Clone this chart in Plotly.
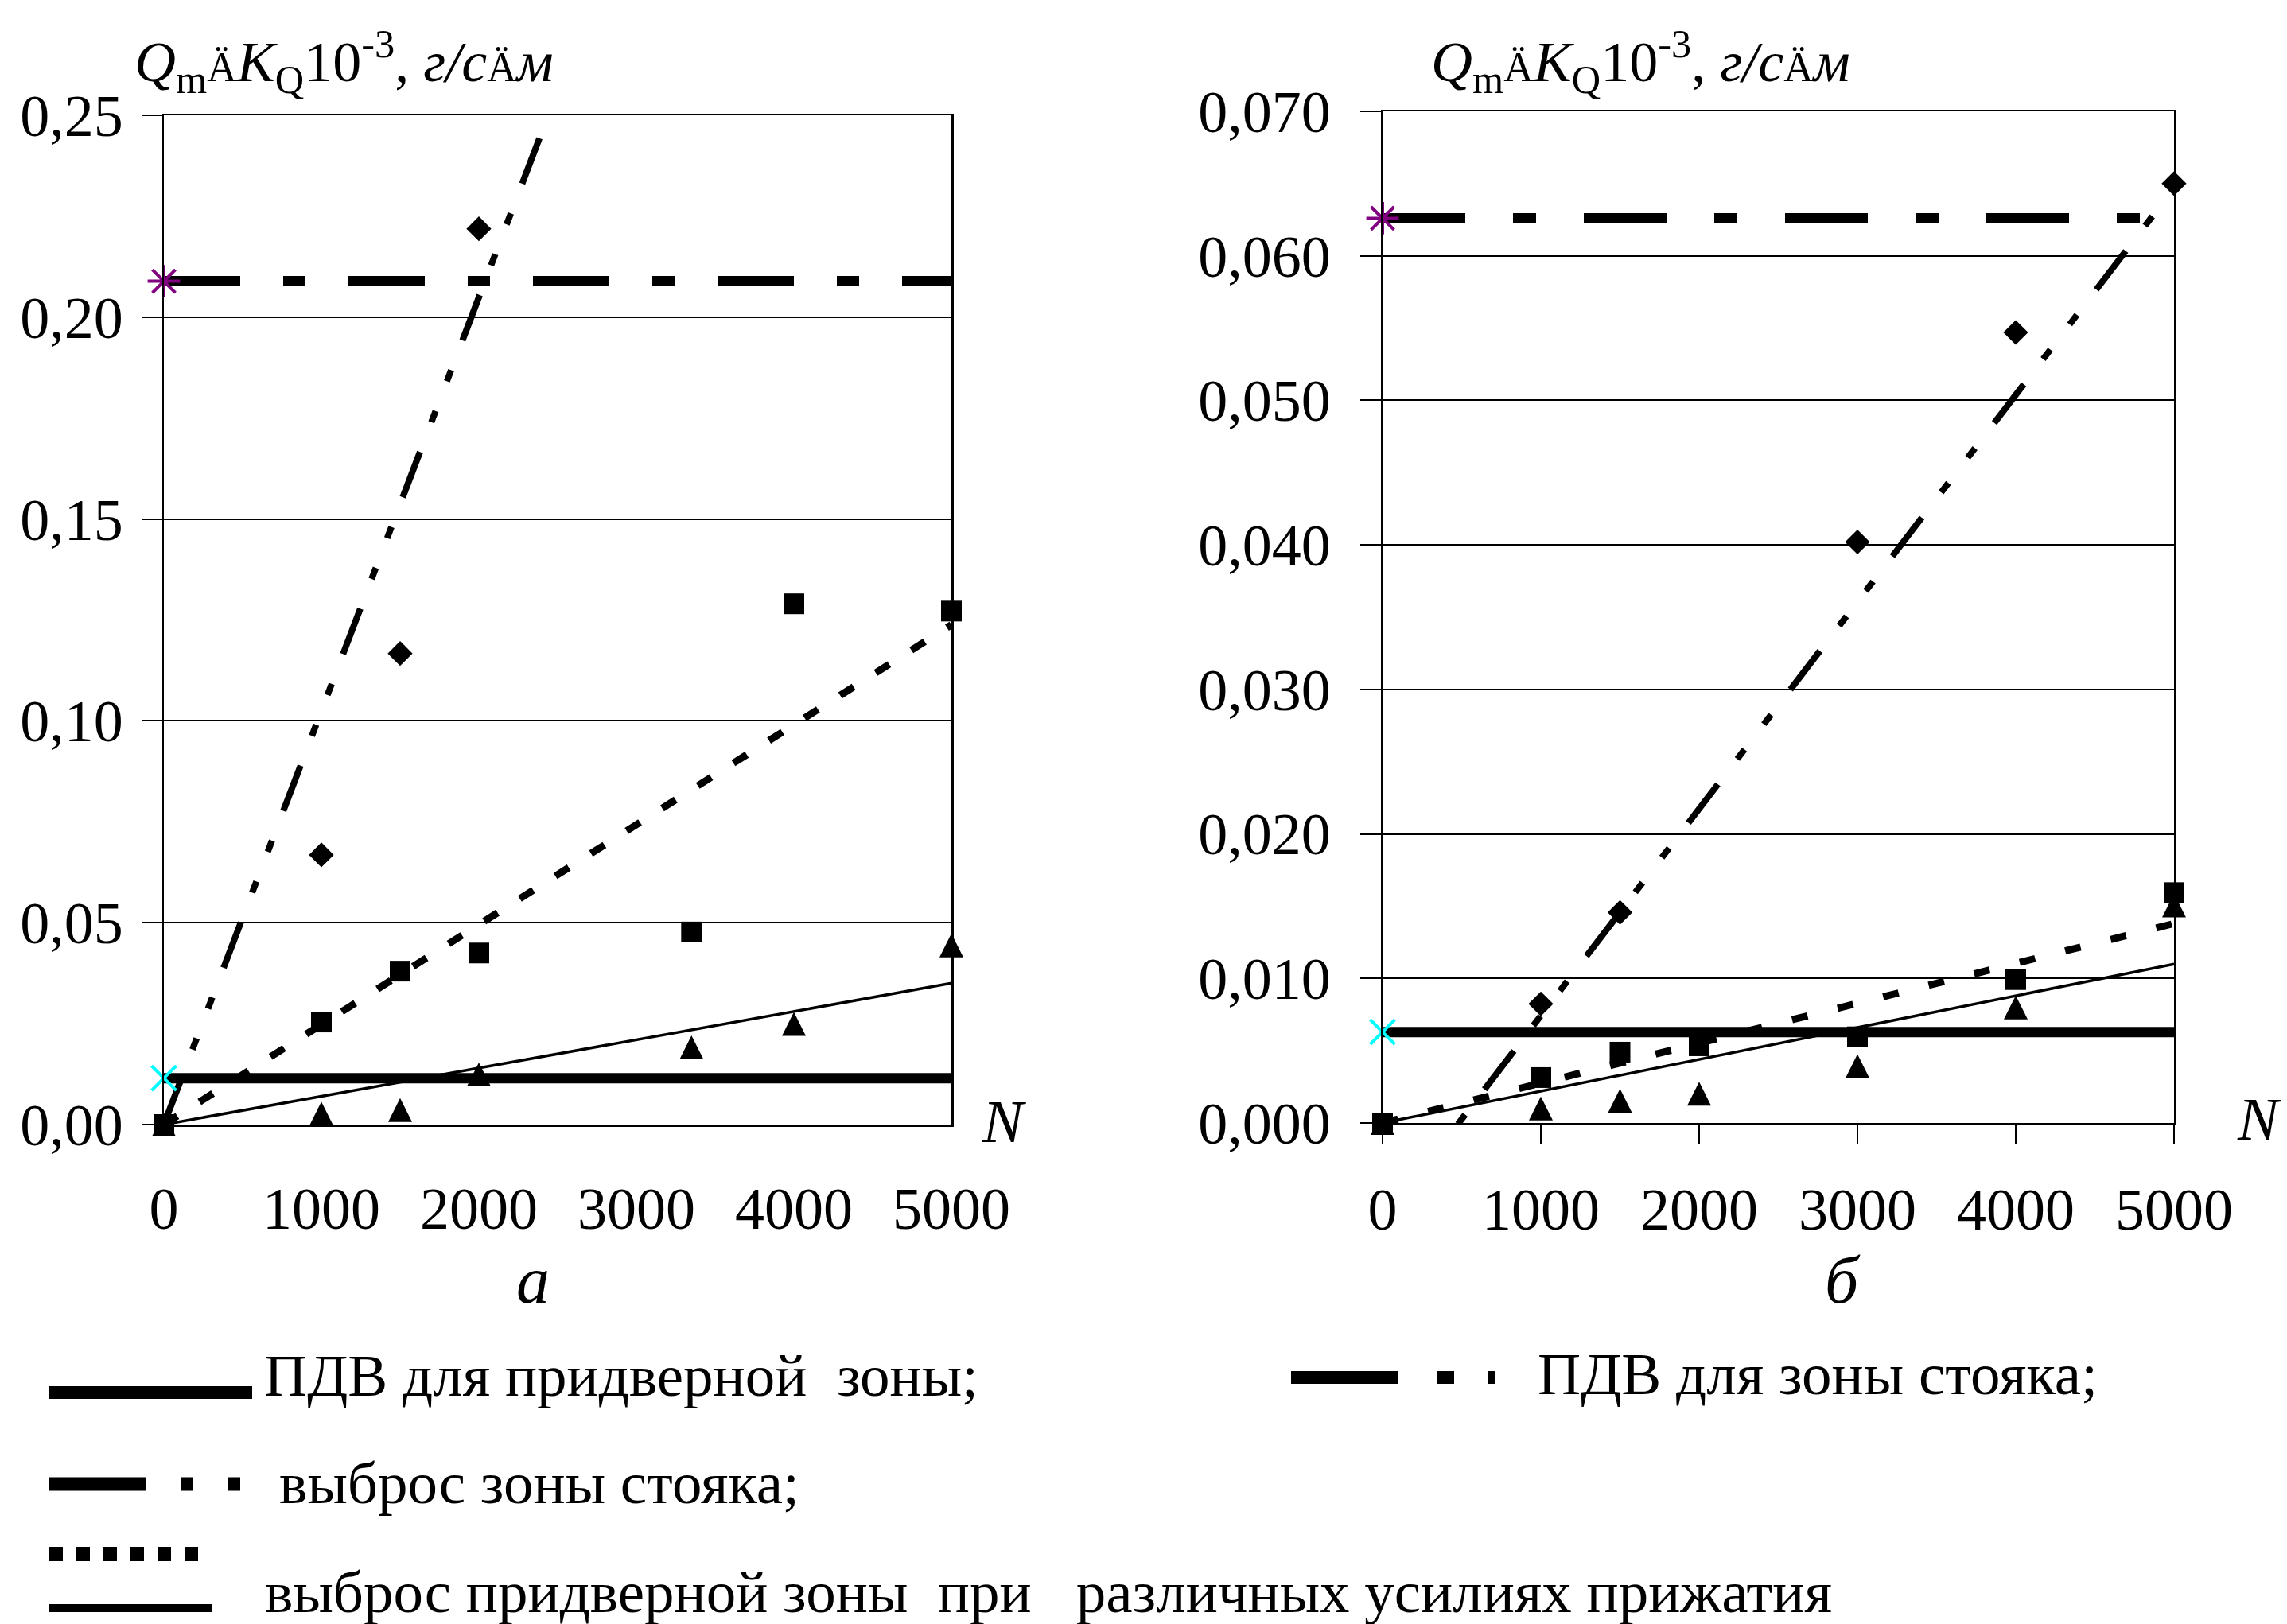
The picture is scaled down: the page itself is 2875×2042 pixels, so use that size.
import plotly.graph_objects as go

W, H = 2875, 2042
FONT = "Liberation Serif"

# ---------------- data: panel "а" ----------------
a_ticks_n = [0, 1000, 2000, 3000, 4000, 5000]
a_ticks_n_text = ["0", "1000", "2000", "3000", "4000", "5000"]
a_ticks_q = [0.0, 0.05, 0.10, 0.15, 0.20, 0.25]
a_ticks_q_text = ["0,00", "0,05", "0,10", "0,15", "0,20", "0,25"]

a_n_diamond = [1000, 1500, 2000]
a_q_diamond = [0.0668, 0.1167, 0.2219]
a_n_square = [0, 1000, 1500, 2000, 3350, 4000, 5000]
a_q_square = [0.0, 0.0254, 0.0380, 0.0425, 0.0477, 0.1290, 0.1272]
a_n_triangle = [0, 1000, 1500, 2000, 3350, 4000, 5000]
a_q_triangle = [0.0, 0.0027, 0.0036, 0.0124, 0.0191, 0.0249, 0.0444]

a_trend_diamond_n = [0, 2440]
a_trend_diamond_q = [0.0, 0.25]
a_trend_n = [0, 5000]
a_trend_square_q = [0.0, 0.1238]
a_trend_triangle_q = [0.0, 0.0350]

a_pdv_door = 0.0115
a_pdv_stand = 0.2089

# ---------------- data: panel "б" ----------------
b_ticks_n = [0, 1000, 2000, 3000, 4000, 5000]
b_ticks_n_text = ["0", "1000", "2000", "3000", "4000", "5000"]
b_ticks_q = [0.0, 0.01, 0.02, 0.03, 0.04, 0.05, 0.06, 0.07]
b_ticks_q_text = ["0,000", "0,010", "0,020", "0,030", "0,040", "0,050", "0,060", "0,070"]

b_n_diamond = [1000, 1500, 3000, 4000, 5000]
b_q_diamond = [0.00824, 0.01457, 0.0402, 0.0547, 0.0650]
b_n_square = [0, 1000, 1500, 2000, 3000, 4000, 5000]
b_q_square = [0.0, 0.00314, 0.0049, 0.00534, 0.00596, 0.00992, 0.01594]
b_n_triangle = [0, 1000, 1500, 2000, 3000, 4000, 5000]
b_q_triangle = [0.0, 0.0010, 0.00154, 0.00202, 0.00394, 0.0080, 0.01505]

b_trend_n = [0, 5000]
b_trend_diamond_q = [-0.0069, 0.0647]
b_trend_square_q = [0.0, 0.0138]
b_trend_triangle_q = [0.0, 0.0110]

b_pdv_door = 0.00629
b_pdv_stand = 0.0626

pdv_n = [0, 5000]

legend_labels = [
    "ПДВ для придверной\u00a0 зоны;",
    "ПДВ для зоны стояка;",
    "выброс зоны стояка;",
    "выброс придверной зоны\u00a0 при\u00a0\u00a0 различных усилиях прижатия",
]
axis_title = ("<i>Q</i><sub>m</sub><span style='font-size:52px'>Ä</span><i>K</i><sub>Q</sub>"
              "10<sup>-3</sup>, <i>г/с</i><span style='font-size:52px'>Ä</span><i>м</i>")


def px(x):
    return x / W


def py(y):
    return 1 - y / H


fig = go.Figure()


def add_panel(xa, ya, n_d, q_d, tdn, tdq, n_s, q_s, tn, tsq, n_t, q_t, ttq,
              pdv_door, pdv_stand, stand_dash, dot_dash):
    # trend: triangles (thin solid)
    fig.add_trace(go.Scatter(x=tn, y=ttq, mode="lines", xaxis=xa, yaxis=ya,
                             line=dict(color="black", width=3.5), showlegend=False))
    # trend: squares (dotted)
    fig.add_trace(go.Scatter(x=tn, y=tsq, mode="lines", xaxis=xa, yaxis=ya,
                             line=dict(color="black", width=9, dash=dot_dash), showlegend=False))
    # trend: diamonds (dash-dot-dot)
    fig.add_trace(go.Scatter(x=tdn, y=tdq, mode="lines", xaxis=xa, yaxis=ya,
                             line=dict(color="black", width=8,
                                       dash="61px,40px,15px,40px,15px,40px"),
                             showlegend=False))
    # ПДВ придверной зоны
    fig.add_trace(go.Scatter(x=pdv_n, y=[pdv_door, pdv_door], mode="lines", xaxis=xa, yaxis=ya,
                             line=dict(color="black", width=13), showlegend=False))
    # ПДВ зоны стояка
    fig.add_trace(go.Scatter(x=pdv_n, y=[pdv_stand, pdv_stand], mode="lines", xaxis=xa, yaxis=ya,
                             line=dict(color="black", width=13, dash=stand_dash), showlegend=False))
    # markers
    fig.add_trace(go.Scatter(x=n_t, y=q_t, mode="markers", xaxis=xa, yaxis=ya, cliponaxis=False,
                             marker=dict(symbol="arrow-down", angle=180, size=30, standoff=15,
                                         color="black", line=dict(width=0)), showlegend=False))
    fig.add_trace(go.Scatter(x=n_s, y=q_s, mode="markers", xaxis=xa, yaxis=ya, cliponaxis=False,
                             marker=dict(symbol="square", size=26, color="black",
                                         line=dict(width=0)), showlegend=False))
    fig.add_trace(go.Scatter(x=n_d, y=q_d, mode="markers", xaxis=xa, yaxis=ya, cliponaxis=False,
                             marker=dict(symbol="diamond", size=24, color="black",
                                         line=dict(width=0)), showlegend=False))
    fig.add_trace(go.Scatter(x=[pdv_n[0]], y=[pdv_door], mode="markers", xaxis=xa, yaxis=ya,
                             cliponaxis=False,
                             marker=dict(symbol="x-thin-open", size=31, color="#00FFFF",
                                         line=dict(width=4, color="#00FFFF")), showlegend=False))
    fig.add_trace(go.Scatter(x=[pdv_n[0]], y=[pdv_stand], mode="markers", xaxis=xa, yaxis=ya,
                             cliponaxis=False,
                             marker=dict(symbol="asterisk-open", size=34, color="#800080",
                                         line=dict(width=4, color="#800080")), showlegend=False))


add_panel("x", "y", a_n_diamond, a_q_diamond, a_trend_diamond_n, a_trend_diamond_q,
          a_n_square, a_q_square, a_trend_n, a_trend_square_q, a_n_triangle, a_q_triangle,
          a_trend_triangle_q, a_pdv_door, a_pdv_stand, "96px,54px,28px,54px", "20px,33px")
add_panel("x2", "y2", b_n_diamond, b_q_diamond, b_trend_n, b_trend_diamond_q,
          b_n_square, b_q_square, b_trend_n, b_trend_square_q, b_n_triangle, b_q_triangle,
          b_trend_triangle_q, b_pdv_door, b_pdv_stand, "104px,60px,29px,60px", "20px,39px")

tickfont = dict(family=FONT, size=74, color="black")
common_x = dict(range=[0, 5000], showline=True, mirror=True, linecolor="black", linewidth=2.5,
                showgrid=False, zeroline=False, tickfont=tickfont, fixedrange=True,
                automargin=False)
common_y = dict(showline=True, mirror=True, linecolor="black", linewidth=2.5,
                showgrid=True, gridcolor="black", gridwidth=2, zeroline=False,
                ticks="outside", tickcolor="black", tickwidth=2, tickfont=tickfont, fixedrange=True,
                automargin=False)

fig.update_layout(
    template="none",
    width=W, height=H, autosize=False,
    margin=dict(l=0, r=0, t=0, b=0, pad=0),
    paper_bgcolor="white", plot_bgcolor="white",
    font=dict(family=FONT, color="black"),
    showlegend=False,
    xaxis=dict(domain=[px(206), px(1196)], anchor="y", tickvals=a_ticks_n, ticktext=a_ticks_n_text,
               ticks="", ticklabelstandoff=40, **common_x),
    yaxis=dict(domain=[py(1414), py(145)], anchor="x", range=[0, 0.25], tickvals=a_ticks_q,
               ticktext=a_ticks_q_text, ticklen=25, ticklabelstandoff=9, **common_y),
    xaxis2=dict(domain=[px(1738), px(2733)], anchor="y2", tickvals=b_ticks_n, ticktext=b_ticks_n_text,
                ticks="outside", ticklen=23, tickwidth=2, tickcolor="black", ticklabelstandoff=20,
                **common_x),
    yaxis2=dict(domain=[py(1412), py(140)], anchor="x2", range=[0, 0.07], tickvals=b_ticks_q,
                ticktext=b_ticks_q_text, ticklen=26, ticklabelstandoff=22, **common_y),
)


def ann(text, x, y, size, xanchor="left", yanchor="middle", italic=False):
    fig.add_annotation(text=("<i>%s</i>" % text) if italic else text, x=px(x), y=py(y),
                       xref="paper", yref="paper", xanchor=xanchor, yanchor=yanchor,
                       showarrow=False, borderpad=0,
                       font=dict(family=FONT, size=size, color="black"))


# axis titles
ann(axis_title, 168, 78, 72)
ann(axis_title, 1798, 78, 72)
# N labels
ann("N", 1262, 1410, 77, xanchor="center", italic=True)
ann("N", 2840, 1407, 77, xanchor="center", italic=True)
# panel letters
ann("а", 670, 1609, 84, xanchor="center", italic=True)
ann("б", 2316, 1609, 84, xanchor="center", italic=True)

# legend texts
LS = 75
ann(legend_labels[0], 331, 1755 - 0.3375 * LS, LS)
ann(legend_labels[1], 1932, 1753 - 0.3375 * LS, LS)
ann(legend_labels[2], 350, 1890 - 0.3375 * LS, LS)
ann(legend_labels[3], 332, 2027 - 0.3375 * LS, LS)


# legend line samples
def sample(x0, x1, y, width, dash="solid"):
    fig.add_shape(type="line", xref="paper", yref="paper", x0=px(x0), x1=px(x1), y0=py(y), y1=py(y),
                  line=dict(color="black", width=width, dash=dash))


sample(62, 317, 1751, 16)
sample(1623, 1880, 1732, 16, "134px,49px,22px,42px")
sample(62, 302, 1866, 17, "121px,45px,14px,45px,15px,300px")
sample(62, 266, 1954, 18, "17px,17px")
sample(62, 266, 2022, 10)

fig.write_html("out.html", config={"displayModeBar": False, "staticPlot": True},
               post_script="document.body.style.margin='0px';document.body.style.overflow='hidden';")
